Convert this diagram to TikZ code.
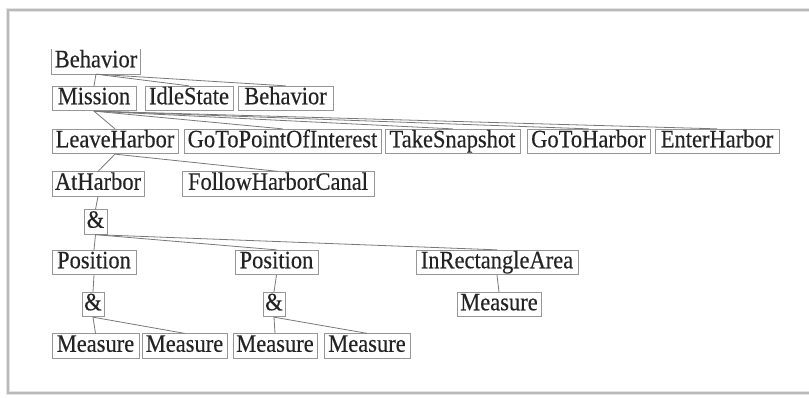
\documentclass[tikz,border=0pt]{standalone}
\usepackage{fontspec}
\setmainfont{Liberation Serif}
\newfontfamily\diagfont[FakeStretch=0.9,FakeBold=0.3]{Liberation Serif}
\definecolor{boxline}{RGB}{150,150,150}
\definecolor{edgeline}{RGB}{120,120,120}
\definecolor{txt}{RGB}{35,35,35}
\definecolor{frameline}{RGB}{185,185,185}
\definecolor{frameshadow}{RGB}{228,228,228}
\begin{document}
\begin{tikzpicture}[x=1pt,y=-1pt,
  box/.style={draw=boxline, line width=0.8pt, inner xsep=0pt, inner ysep=1pt,
    text height=17pt, text depth=5.5pt, font=\diagfont\fontsize{25}{27}\selectfont, text=txt},
  rootbox/.style={box, draw=none},
  edge/.style={draw=edgeline, line width=0.8pt}]
\useasboundingbox (0,0) rectangle (809,397);
% frame
\draw[frameshadow, line width=4pt] (809,10) -- (8,10) -- (8,393) -- (809,393);
\draw[frameline, line width=1.2pt] (809,10) -- (8,10) -- (8,393) -- (809,393);
% row 1
\node[rootbox, minimum width=88pt] (b1) at (96,61.5) {Behavior};
\draw[boxline, line width=0.8pt] (b1.north west) -- (b1.south west) -- (b1.south east) -- (b1.north east);
% row 2
\node[box, minimum width=84pt] (mission) at (94,98.5) {Mission};
\node[box, minimum width=88pt] (idle) at (189,98.5) {IdleState};
\node[box, minimum width=95pt] (b2) at (285.5,98.5) {Behavior};
% row 3
\node[box, minimum width=126pt] (leave) at (115,141.5) {LeaveHarbor};
\node[box, minimum width=197pt] (gopoi) at (282.5,141.5) {GoToPointOfInterest};
\node[box, minimum width=135pt] (snap) at (452.5,141.5) {TakeSnapshot};
\node[box, minimum width=123pt] (goharbor) at (588.5,141.5) {GoToHarbor};
\node[box, minimum width=124pt] (enter) at (717,141.5) {EnterHarbor};
% row 4
\node[box, minimum width=92pt] (atharbor) at (98,184) {AtHarbor};
\node[box, minimum width=192pt] (follow) at (278,184) {FollowHarborCanal};
% row 5
\node[box, minimum width=23pt] (and1) at (95.5,222) {\&};
% row 6
\node[box, minimum width=84pt] (pos1) at (94,262.5) {Position};
\node[box, minimum width=83pt] (pos2) at (276.5,262.5) {Position};
\node[box, minimum width=162pt] (inrect) at (497,262.5) {InRectangleArea};
% row 7
\node[box, minimum width=22pt] (and2) at (93,304.5) {\&};
\node[box, minimum width=22pt] (and3) at (274,304.5) {\&};
\node[box, minimum width=84pt] (m5) at (499,304.5) {Measure};
% row 8
\node[box, minimum width=87pt] (m1) at (95.5,346) {Measure};
\node[box, minimum width=85pt] (m2) at (184.5,346) {Measure};
\node[box, minimum width=84pt] (m3) at (275,346) {Measure};
\node[box, minimum width=86pt] (m4) at (367,346) {Measure};
% edges
\foreach \p/\c in {b1/mission, b1/idle, b1/b2,
  mission/leave, mission/gopoi, mission/snap, mission/goharbor, mission/enter,
  leave/atharbor, leave/follow, atharbor/and1,
  and1/pos1, and1/pos2, and1/inrect,
  pos1/and2, pos2/and3, inrect/m5,
  and2/m1, and2/m2, and3/m3, and3/m4}
  \draw[edge] (\p.south) -- (\c.north);
\end{tikzpicture}
\end{document}
